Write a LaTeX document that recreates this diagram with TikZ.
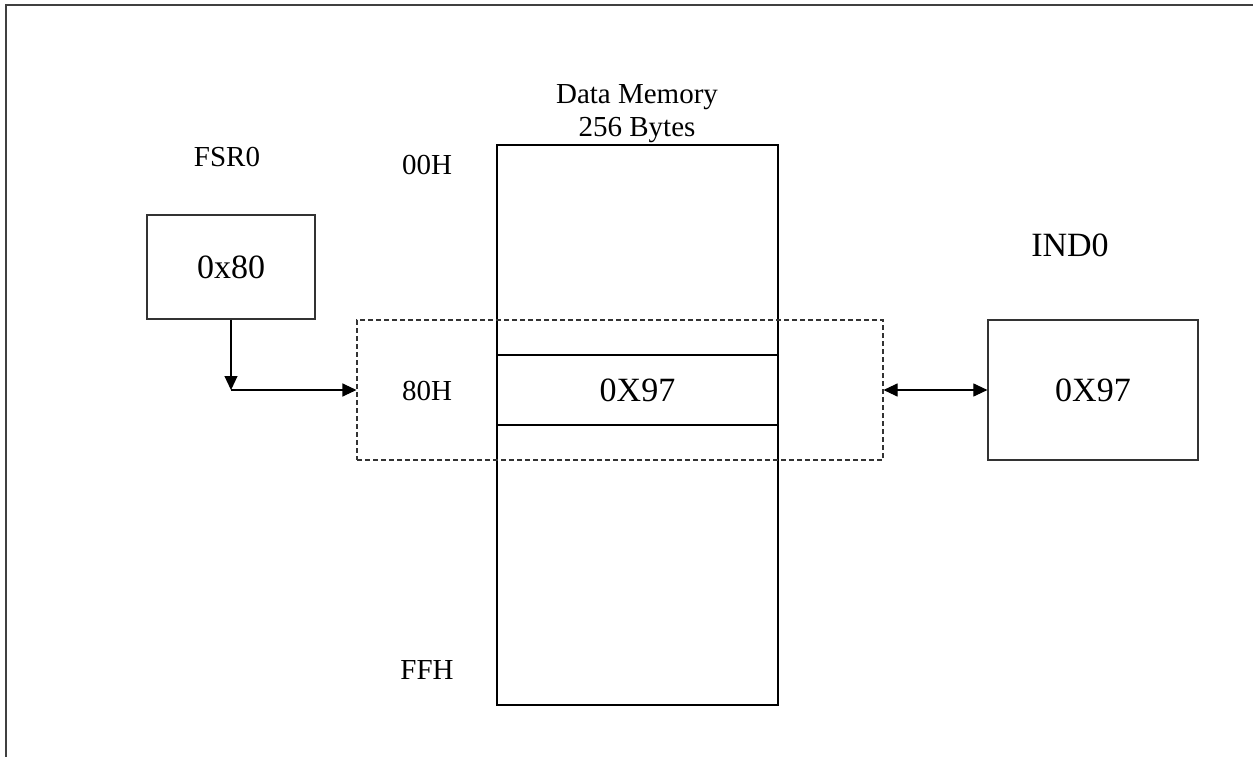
\documentclass[tikz,border=0pt]{standalone}
\usepackage{fontspec}
\setmainfont{Liberation Serif}
\usetikzlibrary{arrows.meta}
\begin{document}
\begin{tikzpicture}[x=1pt,y=-1pt,
  small/.style={font=\fontsize{29}{33}\selectfont,inner sep=0pt},
  big/.style={font=\fontsize{34}{38}\selectfont},
  box/.style={draw=black!80,line width=1.2pt,inner sep=0pt,rectangle},
  dashbox/.style={draw=black!80,line width=1.1pt,dash pattern=on 5pt off 3pt,inner sep=0pt,rectangle},
  tip/.style={-{Triangle[length=14pt,width=13pt]}},
  dtip/.style={{Triangle[length=14pt,width=13pt]}-{Triangle[length=14pt,width=13pt]}},
]
\useasboundingbox (0,0) rectangle (1253,757);
\draw[black!75,line width=2pt] (6,757) -- (6,5) -- (1253,5);

% memory
\node[box,draw=black,minimum width=281pt,minimum height=560pt] (mem) at (637.5,425) {};
\node[box,draw=black,minimum width=281pt,minimum height=70pt,big] (cell) at (637.5,390) {0X97};
\node[dashbox,minimum width=526pt,minimum height=140pt] (win) at (620,390) {};

% FSR0
\node[box,minimum width=168pt,minimum height=104pt,big] (fsr) at (231,267) {0x80};
\coordinate (corner) at (231,390);
\draw[line width=1.1pt,tip] (fsr.south) -- (corner);
\draw[line width=1.1pt,tip] (corner) -- (win.west);

% IND0
\node[box,minimum width=210pt,minimum height=140pt,big] (ind) at (1093,390) {0X97};
\draw[line width=1.1pt,dtip] (win.east) -- (ind.west);

% labels
\node[small,anchor=base] (lfsr) at (227,167) {FSR0};
\node[big,inner sep=0pt,anchor=base] (lind) at (1070,256) {IND0};
\node[small,anchor=base] (l00) at (427,175) {00H};
\node[small,anchor=base] (l80) at (427,400) {80H};
\node[small,anchor=base] (lff) at (427,679) {FFH};
\node[small,anchor=base] (ldm) at (637,104) {Data Memory};
\node[small,anchor=base] (lby) at (637,137) {256 Bytes};
\end{tikzpicture}
\end{document}
